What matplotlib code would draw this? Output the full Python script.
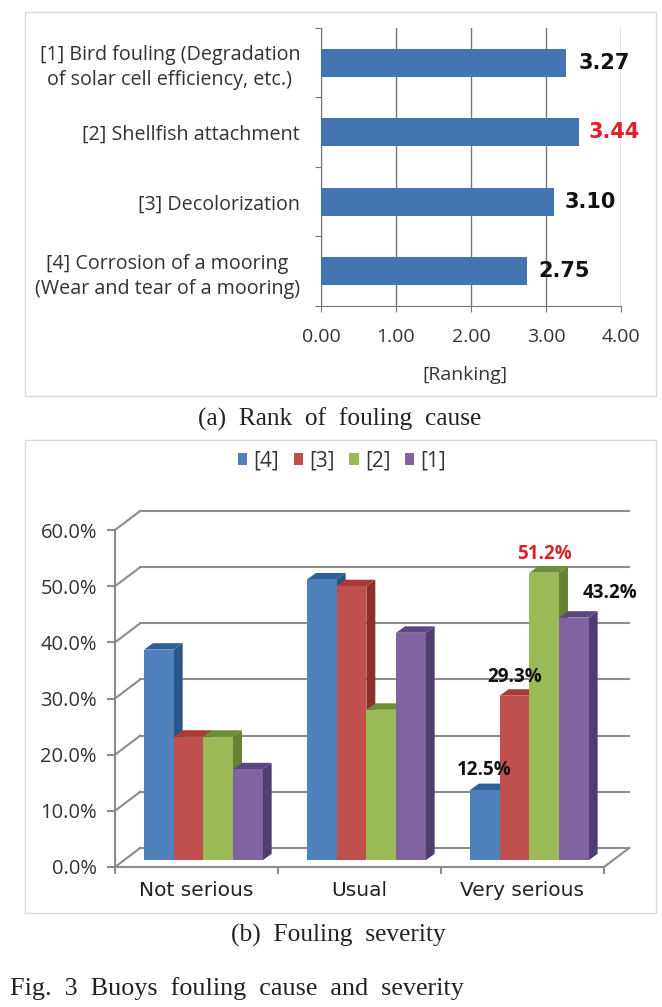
import matplotlib
matplotlib.use('Agg')
import matplotlib.pyplot as plt
from matplotlib.patches import Rectangle, Polygon

W, H = 662, 1007

# ---- chart (a) ----
causes = ['[1] Bird fouling (Degradation\nof solar cell efficiency, etc.)',
          '[2] Shellfish attachment',
          '[3] Decolorization',
          '[4] Corrosion of a mooring\n(Wear and tear of a mooring)']
ranking = [3.27, 3.44, 3.10, 2.75]
ranking_ticks = [0, 1, 2, 3, 4]

# ---- chart (b) ----
severity = ['Not serious', 'Usual', 'Very serious']
series_names = ['[4]', '[3]', '[2]', '[1]']
s4 = [37.5, 50.0, 12.5]
s3 = [22.0, 48.8, 29.3]
s2 = [22.0, 26.8, 51.2]
s1 = [16.2, 40.5, 43.2]
percent_ticks = [0, 10, 20, 30, 40, 50, 60]

FRONT = ['#4F81BD', '#C0504D', '#9BBB59', '#8064A2']
SIDE = ['#2C5687', '#8E2F2C', '#668232', '#4F3D6F']
TOP = ['#30609A', '#A83A37', '#6F8E38', '#5B4780']
GRID = '#8C8C8C'
SANS = 'Open Sans'


def box(l, t, r, b):
    # pixel box (top left origin) to figure fractions
    return [l / W, 1 - b / H, (r - l) / W, (b - t) / H]


fig = plt.figure(figsize=(W / 100, H / 100), dpi=100, facecolor='white')

for l, t, r, b in [(25, 12, 656, 396), (25, 440, 656, 913)]:
    fig.add_artist(Rectangle((l / W, 1 - b / H), (r - l) / W, (b - t) / H, zorder=-1,
                             transform=fig.transFigure, fc='white', ec='#D9D9D9', lw=1))

# (a) horizontal bars
ax = fig.add_axes(box(321, 28, 621, 306))
ax.patch.set_alpha(0)
pos = list(range(len(causes)))
ax.barh(pos, ranking, height=0.41, color='#4375B3', zorder=3)
ax.set_xlim(0, 4)
ax.set_ylim(3.5, -0.5)
ax.set_xticks(ranking_ticks)
ax.set_xticklabels(['%.2f' % v for v in ranking_ticks], fontsize=14, family=SANS, color='#333333')
ax.set_yticks([-0.5, 0.5, 1.5, 2.5, 3.5])
ax.set_yticklabels([])
ax.set_yticks(pos, minor=True)
ax.set_yticklabels(causes, minor=True, fontsize=14.2, family=SANS, color='#333333',
                   multialignment='center', linespacing=1.35)
ax.tick_params(axis='y', which='minor', length=0, pad=15)
ax.tick_params(axis='y', which='major', length=4, color='#777777')
ax.tick_params(axis='x', length=4, pad=12, color='#777777')
ax.grid(axis='x', color='#777777', lw=1, zorder=1)
ax.set_axisbelow(True)
for side in ['top', 'right']:
    ax.spines[side].set_visible(False)
for side in ['left', 'bottom']:
    ax.spines[side].set_color('#777777')
ax.set_xlabel('[Ranking]', fontsize=14, family=SANS, color='#333333', labelpad=14)
ax.xaxis.label.set_x(0.48)
label_gap = [12, 10, 11, 11]
for i, v in enumerate(ranking):
    ax.annotate('%.2f' % v, (v, i), xytext=(label_gap[i], 0), textcoords='offset pixels',
                va='center', ha='left', fontsize=15, fontweight='bold', zorder=5,
                family='DejaVu Sans', color='#E0202A' if i == 1 else '#111111')

# (b) 3d look columns, everything in data units of the front plane
bx = fig.add_axes(box(115, 530, 604, 867))
bx.patch.set_alpha(0)
bx.set_xlim(0, 3)
bx.set_ylim(0, 60)
WALL_DX, WALL_DY = 0.155, 3.4
BAR_DX, BAR_DY = 0.055, 1.15
LIFT = 1.2
BAR_W = 0.182
START = 0.178

for p in percent_ticks:
    bx.plot([0, WALL_DX], [p, p + WALL_DY], color=GRID, lw=1.5, clip_on=False, zorder=1)
    bx.plot([WALL_DX, 3 + WALL_DX], [p + WALL_DY, p + WALL_DY], color=GRID, lw=1.5,
            clip_on=False, zorder=1)
bx.plot([3, 3 + WALL_DX], [0, WALL_DY], color=GRID, lw=1.5, clip_on=False, zorder=1)

z = 2
for g in range(len(severity)):
    for j, vals in enumerate([s4, s3, s2, s1]):
        x0 = g + START + j * BAR_W
        x1 = x0 + BAR_W
        top = vals[g] + LIFT
        bx.add_patch(Polygon([(x1, LIFT), (x1 + BAR_DX, LIFT + BAR_DY),
                              (x1 + BAR_DX, top + BAR_DY), (x1, top)],
                             fc=SIDE[j], ec='none', zorder=z, clip_on=False))
        bx.add_patch(Polygon([(x0, top), (x0 + BAR_DX, top + BAR_DY),
                              (x1 + BAR_DX, top + BAR_DY), (x1, top)],
                             fc=TOP[j], ec='none', zorder=z, clip_on=False))
        bx.bar(x0, vals[g], width=BAR_W, bottom=LIFT, align='edge', color=FRONT[j],
               zorder=z + 0.5)
        z += 1

bx.set_yticks(percent_ticks)
bx.set_yticklabels(['%.1f%%' % p for p in percent_ticks], fontsize=14.5, family=SANS, color='#333333')
bx.set_xticks([0, 1, 2, 3])
bx.set_xticklabels([])
bx.set_xticks([0.5, 1.5, 2.5], minor=True)
bx.set_xticklabels(severity, minor=True, fontsize=14.5, family='DejaVu Sans', color='#222222')
bx.tick_params(axis='x', which='minor', length=0, pad=10)
bx.tick_params(axis='x', which='major', length=5, color=GRID, width=1.5)
bx.tick_params(axis='y', length=6, pad=7, color=GRID, width=1.5)
for side in ['top', 'right']:
    bx.spines[side].set_visible(False)
for side in ['left', 'bottom']:
    bx.spines[side].set_color(GRID)
    bx.spines[side].set_linewidth(1.5)

bar_labels = [(0, s4[2], '#111111', -1, 14), (1, s3[2], '#111111', 0, 12),
              (2, s2[2], '#D8202A', 0, 12), (3, s1[2], '#111111', 36, 18)]
for j, v, col, ox, oy in bar_labels:
    bx.annotate('%.1f%%' % v, (2 + START + (j + 0.5) * BAR_W, v + LIFT + BAR_DY),
                xytext=(ox, oy), textcoords='offset pixels', ha='center', va='center',
                fontsize=13.5, fontweight='bold', family=SANS, color=col, zorder=60)

handles = [Rectangle((0, 0), 1, 1, fc=c, ec='none') for c in FRONT]
fig.legend(handles, series_names, loc='center', bbox_to_anchor=(342 / W, 1 - 461 / H), ncol=4,
           frameon=False, prop={'family': SANS, 'size': 15}, handlelength=0.45, handleheight=0.45,
           handletextpad=0.3, columnspacing=0.7, labelcolor='#333333')

# captions
caption_font = 'Liberation Serif'
fig.text(340 / W, 1 - 419 / H, '(a)  Rank  of  fouling  cause', ha='center', va='center',
         fontsize=18.3, family=caption_font, color='#222222')
fig.text(338 / W, 1 - 935 / H, '(b)  Fouling  severity', ha='center', va='center',
         fontsize=18.3, family=caption_font, color='#222222')
fig.text(10 / W, 1 - 989 / H, 'Fig.  3  Buoys  fouling  cause  and  severity', ha='left', va='center',
         fontsize=18.8, family=caption_font, color='#222222')

fig.savefig('out.png', dpi=100)
